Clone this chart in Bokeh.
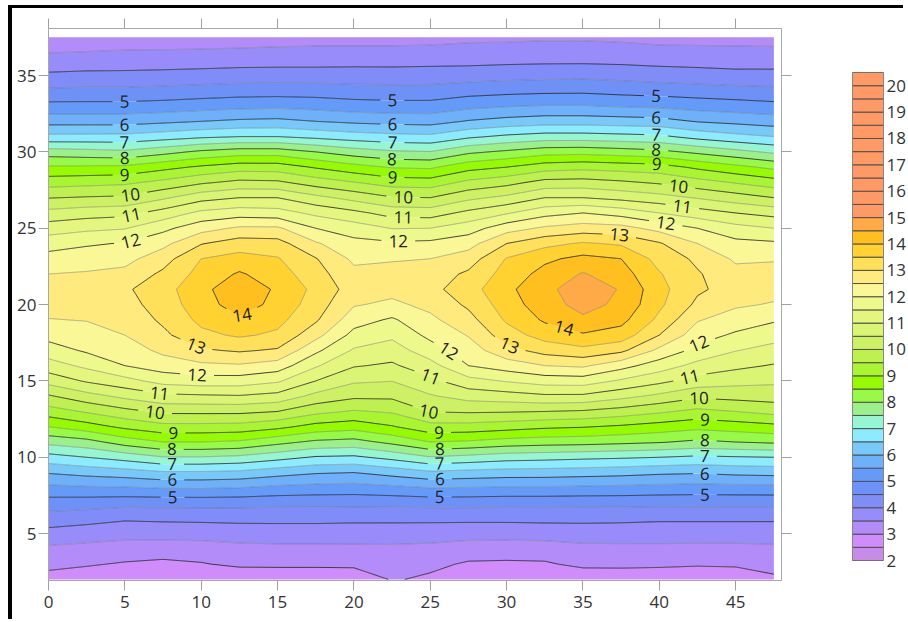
import numpy as np
from bokeh.plotting import figure
from bokeh.layouts import row, column
from bokeh.models import Range1d, LinearAxis, FixedTicker, Div
from bokeh.core.properties import value
from bokeh.embed import file_html
from bokeh.resources import INLINE
from contourpy import contour_generator, LineType

# ---------------- data ----------------
x_vals = [0, 2.5, 5, 7.5, 10, 12.5, 15, 17.5, 20, 22.5, 25, 27.5, 30, 32.5, 35, 37.5, 40, 42.5, 45, 47.5]
y_vals = [2, 3, 4, 5, 6, 7, 8, 9, 10, 11, 12, 13, 14, 15, 16, 17, 18, 19, 20,
          21, 22, 23, 24, 25, 26, 27, 28, 29, 30, 31, 32, 33, 34, 35, 36, 37, 37.5]

# value profiles along y, one list per x column
z_x00_0 = [2.80, 3.14, 3.41, 3.82, 4.28, 4.77, 5.37, 6.04, 6.81, 7.65, 8.50, 9.27, 9.94, 10.68, 11.28, 11.77, 12.17, 12.48, 12.70, 12.70, 12.50, 12.19, 11.79, 11.26, 10.66, 9.98, 9.28, 8.57, 7.74, 6.62, 5.81, 5.16, 4.58, 4.10, 3.64, 3.35, 3.25]
z_x02_5 = [2.70, 3.05, 3.35, 3.73, 4.19, 4.73, 5.43, 6.17, 7.00, 7.82, 8.78, 9.56, 10.31, 11.06, 11.61, 12.07, 12.30, 12.52, 12.71, 12.78, 12.55, 12.26, 11.94, 11.39, 10.78, 10.04, 9.34, 8.58, 7.67, 6.64, 5.81, 5.16, 4.61, 4.14, 3.68, 3.36, 3.25]
z_x05_0 = [2.60, 2.95, 3.29, 3.66, 4.07, 4.67, 5.46, 6.27, 7.21, 8.23, 9.11, 9.85, 10.62, 11.33, 12.00, 12.25, 12.50, 12.66, 12.81, 12.92, 12.64, 12.34, 12.03, 11.47, 10.85, 10.08, 9.40, 8.60, 7.60, 6.64, 5.81, 5.16, 4.61, 4.14, 3.71, 3.40, 3.30]
z_x07_5 = [2.55, 2.88, 3.26, 3.67, 4.10, 4.67, 5.53, 6.43, 7.47, 8.50, 9.34, 10.10, 10.88, 11.68, 12.25, 12.61, 12.89, 13.09, 13.23, 13.31, 13.10, 12.79, 12.36, 11.87, 11.20, 10.42, 9.63, 8.85, 7.83, 6.77, 5.90, 5.21, 4.65, 4.17, 3.72, 3.40, 3.30]
z_x10_0 = [2.60, 2.96, 3.30, 3.67, 4.12, 4.68, 5.54, 6.43, 7.47, 8.50, 9.34, 10.11, 10.92, 11.78, 12.39, 12.94, 13.38, 13.62, 13.78, 13.85, 13.67, 13.50, 12.97, 12.31, 11.62, 10.82, 9.92, 9.08, 8.10, 6.91, 6.00, 5.29, 4.70, 4.20, 3.75, 3.41, 3.30]
z_x12_5 = [2.55, 3.11, 3.37, 3.71, 4.14, 4.67, 5.50, 6.38, 7.39, 8.43, 9.31, 10.11, 10.96, 11.76, 12.44, 13.06, 13.57, 13.93, 14.24, 14.36, 14.06, 13.69, 13.24, 12.58, 11.77, 11.00, 10.13, 9.26, 8.26, 7.00, 6.09, 5.36, 4.75, 4.24, 3.78, 3.43, 3.30]
z_x15_0 = [2.55, 3.12, 3.39, 3.73, 4.14, 4.64, 5.38, 6.20, 7.18, 8.15, 9.13, 10.00, 10.83, 11.57, 12.27, 12.94, 13.41, 13.65, 13.85, 13.92, 13.73, 13.54, 13.19, 12.58, 11.71, 11.00, 10.09, 9.25, 8.26, 7.00, 6.13, 5.39, 4.76, 4.24, 3.80, 3.46, 3.35]
z_x17_5 = [2.55, 3.12, 3.39, 3.73, 4.14, 4.63, 5.32, 6.05, 6.95, 7.90, 8.82, 9.64, 10.35, 11.00, 11.56, 12.11, 12.67, 13.07, 13.25, 13.37, 13.20, 13.03, 12.56, 12.00, 11.38, 10.64, 9.76, 8.95, 8.00, 6.87, 6.00, 5.33, 4.75, 4.24, 3.80, 3.48, 3.40]
z_x20_0 = [2.55, 3.14, 3.40, 3.72, 4.12, 4.63, 5.29, 6.00, 6.91, 7.82, 8.70, 9.45, 10.10, 10.57, 11.04, 11.44, 11.84, 12.21, 12.54, 12.76, 12.63, 12.40, 12.15, 11.75, 11.13, 10.33, 9.52, 8.68, 7.74, 6.74, 5.90, 5.23, 4.70, 4.24, 3.82, 3.48, 3.40]
z_x22_5 = [3.05, 3.18, 3.41, 3.72, 4.12, 4.64, 5.38, 6.19, 7.15, 8.13, 8.96, 9.56, 10.10, 10.51, 10.92, 11.27, 11.60, 11.93, 12.40, 12.65, 12.66, 12.46, 12.08, 11.48, 10.81, 10.04, 9.27, 8.46, 7.57, 6.65, 5.84, 5.19, 4.68, 4.23, 3.82, 3.48, 3.40]
z_x25_0 = [2.90, 3.13, 3.38, 3.70, 4.12, 4.67, 5.50, 6.40, 7.47, 8.50, 9.32, 10.02, 10.45, 10.87, 11.32, 11.77, 12.13, 12.39, 12.63, 12.84, 12.74, 12.50, 12.12, 11.50, 10.77, 10.00, 9.23, 8.42, 7.52, 6.61, 5.81, 5.19, 4.68, 4.24, 3.84, 3.50, 3.45]
z_x27_5 = [2.60, 2.93, 3.29, 3.67, 4.12, 4.67, 5.48, 6.33, 7.35, 8.43, 9.31, 10.06, 10.69, 11.33, 12.00, 12.26, 12.53, 12.82, 13.09, 13.30, 13.09, 12.75, 12.31, 11.77, 11.13, 10.38, 9.62, 8.82, 7.90, 6.91, 6.04, 5.37, 4.79, 4.28, 3.84, 3.52, 3.45]
z_x30_0 = [2.60, 2.91, 3.27, 3.67, 4.12, 4.65, 5.44, 6.27, 7.22, 8.29, 9.21, 10.04, 10.78, 11.54, 12.25, 12.83, 13.27, 13.57, 13.75, 13.87, 13.70, 13.53, 13.00, 12.29, 11.45, 10.62, 9.83, 9.00, 8.09, 7.10, 6.18, 5.47, 4.85, 4.33, 3.87, 3.53, 3.45]
z_x32_5 = [2.60, 2.93, 3.29, 3.68, 4.14, 4.65, 5.44, 6.26, 7.17, 8.22, 9.09, 10.00, 10.91, 11.72, 12.50, 13.19, 13.71, 14.07, 14.29, 14.39, 14.17, 13.90, 13.35, 12.58, 11.83, 11.00, 10.17, 9.27, 8.30, 7.22, 6.27, 5.53, 4.89, 4.36, 3.89, 3.56, 3.45]
z_x35_0 = [2.60, 3.13, 3.38, 3.71, 4.14, 4.64, 5.40, 6.22, 7.11, 8.19, 9.03, 9.94, 10.90, 11.75, 12.58, 13.36, 13.94, 14.41, 14.67, 14.73, 14.54, 14.14, 13.56, 12.73, 12.00, 11.00, 10.20, 9.35, 8.33, 7.22, 6.27, 5.53, 4.90, 4.38, 3.89, 3.56, 3.45]
z_x37_5 = [2.60, 3.14, 3.39, 3.71, 4.12, 4.64, 5.38, 6.17, 7.06, 8.12, 8.92, 9.78, 10.65, 11.43, 12.18, 13.12, 13.78, 14.15, 14.39, 14.47, 14.23, 14.00, 13.43, 12.68, 11.80, 10.85, 10.08, 9.28, 8.24, 7.16, 6.23, 5.46, 4.83, 4.33, 3.87, 3.53, 3.45]
z_x40_0 = [2.60, 3.11, 3.39, 3.71, 4.08, 4.63, 5.33, 6.09, 7.00, 8.04, 8.78, 9.58, 10.38, 11.13, 11.75, 12.38, 13.00, 13.38, 13.60, 13.66, 13.54, 13.32, 13.05, 12.33, 11.50, 10.69, 9.93, 9.21, 8.13, 7.10, 6.18, 5.41, 4.78, 4.26, 3.83, 3.50, 3.45]
z_x42_5 = [2.60, 3.06, 3.38, 3.71, 4.08, 4.63, 5.30, 6.05, 6.91, 7.90, 8.64, 9.37, 10.10, 10.79, 11.35, 11.85, 12.22, 12.54, 12.89, 13.08, 13.05, 12.90, 12.50, 12.00, 11.23, 10.46, 9.69, 8.90, 7.89, 6.83, 5.97, 5.30, 4.73, 4.21, 3.81, 3.49, 3.40]
z_x45_0 = [2.60, 3.09, 3.38, 3.71, 4.08, 4.63, 5.32, 6.13, 6.96, 8.00, 8.74, 9.50, 10.17, 10.66, 11.12, 11.52, 11.92, 12.27, 12.57, 12.80, 12.66, 12.42, 12.14, 11.67, 11.00, 10.23, 9.46, 8.64, 7.65, 6.64, 5.87, 5.23, 4.68, 4.16, 3.78, 3.48, 3.35]
z_x47_5 = [2.90, 3.19, 3.41, 3.71, 4.08, 4.63, 5.33, 6.17, 7.00, 8.08, 8.85, 9.67, 10.22, 10.59, 10.96, 11.33, 11.69, 12.06, 12.46, 12.66, 12.66, 12.46, 12.08, 11.50, 10.83, 10.00, 9.23, 8.38, 7.41, 6.50, 5.76, 5.15, 4.63, 4.15, 3.79, 3.47, 3.30]

fill_levels = [2.0, 2.5, 3.0, 3.5, 4.0, 4.5, 5.0, 5.5, 6.0, 6.5, 7.0, 7.5, 8.0, 8.5, 9.0, 9.5,
               10.0, 10.5, 11.0, 11.5, 12.0, 12.5, 13.0, 13.5, 14.0, 14.5, 15.0, 15.5, 16.0,
               16.5, 17.0, 17.5, 18.0, 18.5, 19.0, 19.5, 20.0, 20.5]
band_colors = ["#C88CE8", "#D08CFA", "#B48CFA", "#988CFA", "#808CF8", "#6E91F8", "#649BFA",
               "#6EB0FA", "#78C8FA", "#8CEBFF", "#96F5D2", "#9BF08C", "#96FA46", "#96FA00",
               "#AAF532", "#BEF050", "#CDF064", "#D9F573", "#E4F67D", "#EEF98C", "#FAF796",
               "#FFEB7D", "#FFE05A", "#FFD232", "#FFBF1E", "#FFAA46",
               "#FF9966", "#FF9966", "#FF9966", "#FF9966", "#FF9966", "#FF9966", "#FF9966",
               "#FF9966", "#FF9966", "#FF9966", "#FF9966"]
major_levels = [3, 4, 5, 6, 7, 8, 9, 10, 11, 12, 13, 14]
minor_levels = [2.5, 3.5, 4.5, 5.5, 6.5, 7.5, 8.5, 9.5, 10.5, 11.5, 12.5, 13.5, 14.5]
x_ticks = [0, 5, 10, 15, 20, 25, 30, 35, 40, 45]
y_ticks = [5, 10, 15, 20, 25, 30, 35]
cbar_ticks = [2, 3, 4, 5, 6, 7, 8, 9, 10, 11, 12, 13, 14, 15, 16, 17, 18, 19, 20]

# where contour labels sit (level, approx x, approx y)
label_spots = [
    (5, 5.0, 33.3), (6, 5.0, 31.7), (7, 5.0, 30.6), (8, 5.0, 29.6), (9, 5.0, 28.6),
    (10, 5.4, 27.1), (11, 5.4, 25.8), (12, 5.4, 24.2),
    (5, 22.5, 33.3), (6, 22.5, 31.7), (7, 22.5, 30.6), (8, 22.5, 29.6), (9, 22.5, 28.3),
    (10, 23.2, 27.0), (11, 23.2, 25.7), (12, 22.9, 24.2),
    (5, 39.8, 33.55), (6, 39.8, 32.2), (7, 39.8, 31.1), (8, 39.8, 30.1), (9, 39.8, 29.3),
    (10, 41.3, 27.9), (11, 41.5, 26.6), (12, 40.4, 25.4), (13, 37.4, 24.65),
    (14, 12.75, 19.2), (13, 9.6, 17.2), (12, 9.7, 15.2), (11, 7.3, 14.2), (10, 7.0, 12.9),
    (9, 8.2, 11.55), (8, 8.1, 10.45), (7, 8.1, 9.6), (6, 8.1, 8.55), (5, 8.1, 7.36),
    (12, 26.1, 16.8), (11, 25.0, 15.3), (10, 24.9, 12.95), (9, 25.6, 11.5), (8, 25.6, 10.45),
    (7, 25.6, 9.6), (6, 25.6, 8.6), (5, 25.6, 7.4),
    (14, 33.8, 18.6), (13, 30.1, 17.0), (12, 42.6, 17.45), (11, 42.0, 15.2), (10, 42.6, 13.85),
    (9, 43.0, 12.5), (8, 43.0, 11.1), (7, 43.0, 10.1), (6, 43.0, 8.94), (5, 43.0, 7.6),
]

z_columns = [z_x00_0, z_x02_5, z_x05_0, z_x07_5, z_x10_0, z_x12_5, z_x15_0, z_x17_5, z_x20_0, z_x22_5,
             z_x25_0, z_x27_5, z_x30_0, z_x32_5, z_x35_0, z_x37_5, z_x40_0, z_x42_5, z_x45_0, z_x47_5]
z = np.array(z_columns, dtype=float).T
xa = np.asarray(x_vals, dtype=float)
ya = np.asarray(y_vals, dtype=float)

# ---------------- geometry ----------------
X0, X1 = 0.0, 48.0
Y0, Y1 = 1.93, 38.08
FW, FH = 733, 552
SX = FW / (X1 - X0)
SY = FH / (Y1 - Y0)
FONT = "Open Sans"
TOP, BOTTOM = 20, 34
LABEL_PX = 17

p = figure(frame_width=FW, frame_height=FH, x_range=Range1d(X0, X1), y_range=Range1d(Y0, Y1),
           x_axis_location=None, y_axis_location=None, output_backend="svg", toolbar_location=None,
           min_border_left=36, min_border_top=TOP, min_border_right=20, min_border_bottom=BOTTOM,
           background_fill_color="white", border_fill_color="white", margin=0)
p.outline_line_color = None
p.grid.visible = False


def make_axis(ticks, labels, standoff):
    ax = LinearAxis(ticker=FixedTicker(ticks=ticks))
    ax.axis_line_color = "#a8a8a8"
    ax.major_tick_line_color = "#a0a0a0"
    ax.major_tick_out = 10
    ax.major_tick_in = 0
    ax.minor_tick_line_color = None
    ax.major_label_text_font = FONT
    ax.major_label_text_font_size = "17px"
    ax.major_label_text_color = "#333333"
    ax.major_label_standoff = standoff
    if not labels:
        ax.major_label_overrides = {t: "" for t in ticks}
        ax.major_label_standoff = 0
    return ax


p.add_layout(make_axis(x_ticks, True, 5), "below")
p.add_layout(make_axis(x_ticks, False, 0), "above")
p.add_layout(make_axis(y_ticks, True, 2), "left")
p.add_layout(make_axis(y_ticks, False, 0), "right")

# filled bands
p.contour(x=xa, y=ya, z=z, levels=fill_levels, fill_color=band_colors, line_color=None)

gen = contour_generator(xa, ya, z, line_type=LineType.Separate)


def dense(seg):
    sx = seg[:, 0]
    sy = seg[:, 1]
    d = np.hypot(np.diff(sx) * SX, np.diff(sy) * SY)
    s = np.concatenate([[0.0], np.cumsum(d)])
    n = max(int(s[-1] / 1.0), 2)
    t = np.linspace(0.0, s[-1], n + 1)
    return np.interp(t, s, sx), np.interp(t, s, sy)


def collect(level):
    out = []
    for seg in gen.lines(level):
        if len(seg) >= 2:
            out.append(dense(np.asarray(seg)))
    return out


def join(segs, masks=None):
    xs, ys = [], []
    for k, (sx, sy) in enumerate(segs):
        sx = sx.copy()
        sy = sy.copy()
        if masks is not None:
            sx[masks[k]] = np.nan
            sy[masks[k]] = np.nan
        xs.append(sx)
        ys.append(sy)
        xs.append(np.array([np.nan]))
        ys.append(np.array([np.nan]))
    if not xs:
        return np.array([]), np.array([])
    return np.concatenate(xs), np.concatenate(ys)


# light half-level lines
mx, my = [], []
for lv in minor_levels:
    a, b = join(collect(lv))
    mx.append(a)
    my.append(b)
p.line(np.concatenate(mx), np.concatenate(my), line_color="#707070", line_alpha=0.5, line_width=1)

# labelled integer lines
int_lines = {lv: collect(lv) for lv in major_levels}
int_masks = {lv: [np.zeros(len(s[0]), dtype=bool) for s in int_lines[lv]] for lv in major_levels}
lab_x, lab_y, lab_t, lab_a = [], [], [], []
for lv, axp, ayp in label_spots:
    segs = int_lines.get(lv, [])
    best = None
    for si, (sx, sy) in enumerate(segs):
        d = np.hypot((sx - axp) * SX, (sy - ayp) * SY)
        i = int(np.argmin(d))
        if best is None or d[i] < best[0]:
            best = (d[i], si, i)
    if best is None:
        continue
    _, si, i = best
    sx, sy = segs[si]
    i0 = max(i - 8, 0)
    i1 = min(i + 8, len(sx) - 1)
    ang = float(np.arctan2((sy[i1] - sy[i0]) * SY, (sx[i1] - sx[i0]) * SX))
    if ang > np.pi / 2:
        ang -= np.pi
    if ang < -np.pi / 2:
        ang += np.pi
    cx, cy = float(sx[i]), float(sy[i])
    txt = str(lv)
    half = 5.4 * len(txt) + 6.0
    for sj, (tx, ty) in enumerate(segs):
        int_masks[lv][sj] |= np.hypot((tx - cx) * SX, (ty - cy) * SY) < half
    lab_x.append(cx)
    lab_y.append(cy)
    lab_t.append(txt)
    lab_a.append(ang)

jx, jy = [], []
for lv in major_levels:
    a, b = join(int_lines[lv], int_masks[lv])
    jx.append(a)
    jy.append(b)
p.line(np.concatenate(jx), np.concatenate(jy), line_color="#2a2a2a", line_alpha=0.9, line_width=1)

p.text(x=lab_x, y=lab_y, text=lab_t, angle=lab_a, text_align="center", text_baseline="middle",
       text_font=value(FONT), text_font_size=f"{LABEL_PX}px", text_color="#1e1e1e")

# ---------------- colour bar ----------------
# frame shares the main frame's height and top; bar drawn from 2 to 20.5 inside it
CB_PX_PER_UNIT = 488.0 / 18.5
cb_lo = 2.0 - 20.0 / CB_PX_PER_UNIT
cb_hi = 20.5 + 44.0 / CB_PX_PER_UNIT
cb = figure(frame_width=31, frame_height=FH, x_range=Range1d(0, 1), y_range=Range1d(cb_lo, cb_hi),
            x_axis_location=None, y_axis_location=None, output_backend="svg", toolbar_location=None,
            min_border_left=51, min_border_top=TOP, min_border_right=18, min_border_bottom=BOTTOM,
            background_fill_color="white", border_fill_color="white", margin=0)
cb.outline_line_color = None
cb.grid.visible = False
cb.quad(left=0, right=1, bottom=fill_levels[:-1], top=fill_levels[1:], fill_color=band_colors,
        line_color="#505050", line_width=1)
cb.quad(left=0, right=1, bottom=fill_levels[0], top=fill_levels[-1], fill_color=None,
        line_color="#707070", line_width=1)
cax = LinearAxis(ticker=FixedTicker(ticks=cbar_ticks))
cax.axis_line_color = None
cax.major_tick_line_color = None
cax.major_tick_out = 0
cax.major_tick_in = 0
cax.minor_tick_line_color = None
cax.minor_tick_out = 0
cax.major_label_text_font = FONT
cax.major_label_text_font_size = "17px"
cax.major_label_text_color = "#333333"
cax.major_label_standoff = 3
cb.add_layout(cax, "right")

# thick black frame lines (top and left) around the picture
top_bar = Div(text="", width=895, height=3, margin=0, styles={"background-color": "#000000"})
left_bar = Div(text="", width=4, height=611, margin=0, styles={"background-color": "#000000"})

layout = column(top_bar, row(left_bar, p, cb, margin=0), margin=(5, 0, 0, 8))

open("out.html", "w").write(file_html(layout, INLINE))
